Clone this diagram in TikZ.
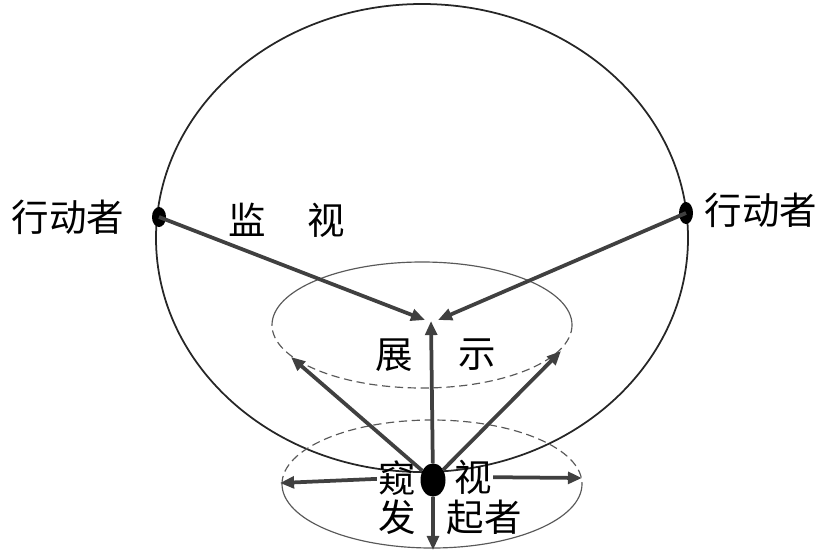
\documentclass[tikz,border=0pt]{standalone}
\usepackage{fontspec}
\newfontfamily\cjk{Noto Sans CJK SC}
\usetikzlibrary{arrows.meta, positioning, shapes.geometric}

\begin{document}
\begin{tikzpicture}[
  x=0.03cm, y=-0.03cm,
  word/.style={font=\cjk\fontsize{32}{34}\selectfont, inner sep=1pt},
  actor/.style={ellipse, fill=black, inner sep=0pt,
                minimum width=0.42cm, minimum height=0.6cm},
  ray/.style={-{Triangle[length=12pt, width=10pt]}, line width=3.2pt,
              draw=black!75},
  rim/.style={draw=black!65, line width=1pt},
  rimdash/.style={rim, dash pattern=on 7pt off 4pt}
]
\useasboundingbox (0,0) rectangle (825,555);

% the sphere of observation
\draw[black!85, line width=1.5pt] (422,238) ellipse [x radius=266, y radius=234];

% display ring
\draw[rim] (272,325) arc [start angle=180, end angle=360, x radius=150, y radius=63];
\draw[rimdash] (572,325) arc [start angle=0, end angle=180, x radius=150, y radius=63];

% initiator ring
\draw[rimdash] (282,484) arc [start angle=180, end angle=360, x radius=150, y radius=64];
\draw[rim] (582,484) arc [start angle=0, end angle=180, x radius=150, y radius=64];

% actors and the one who looks
\node[actor] (actL) at (159,217) {};
\node[actor, minimum height=0.66cm] (actR) at (686,213) {};
\node[actor, minimum width=0.75cm, minimum height=1cm] (seer) at (433,480) {};

\node[word] (nameL) at (68,217) {行动者};
\node[word] (nameR) at (761,210) {行动者};
\node[word] (jian) at (247,220) {监};
\node[word] (shiA) at (326,220) {视};
\node[word] (zhan) at (394,355) {展};
\node[word] (shiB) at (477,355) {示};
\node[word] (kui) at (397,478) {窥};
\node[word] (shiC) at (473,477) {视};
\node[word] (fa) at (397,517) {发};
\node[word] (qizhe) at (484,517) {起者};

% arrow ends
\coordinate (showL) at (425,320);
\coordinate (showR) at (438,320);
\coordinate (showT) at (431,321);
\coordinate (tipNW) at (291,357);
\coordinate (tipNE) at (561,351);
\coordinate (tipW) at (280,483);
\coordinate (tipE) at (582,478);
\coordinate (tipS) at (433,550);

\draw[ray] (actL.center) -- (showL);
\draw[ray] (actR.center) -- (showR);
\draw[ray] (seer) -- (showT);
\draw[ray] (seer) -- (tipNW);
\draw[ray] (seer) -- (tipNE);
\draw[ray] (kui) -- (tipW);
\draw[ray] (shiC) -- (tipE);
\draw[ray] (seer) -- (tipS);

\end{tikzpicture}
\end{document}
